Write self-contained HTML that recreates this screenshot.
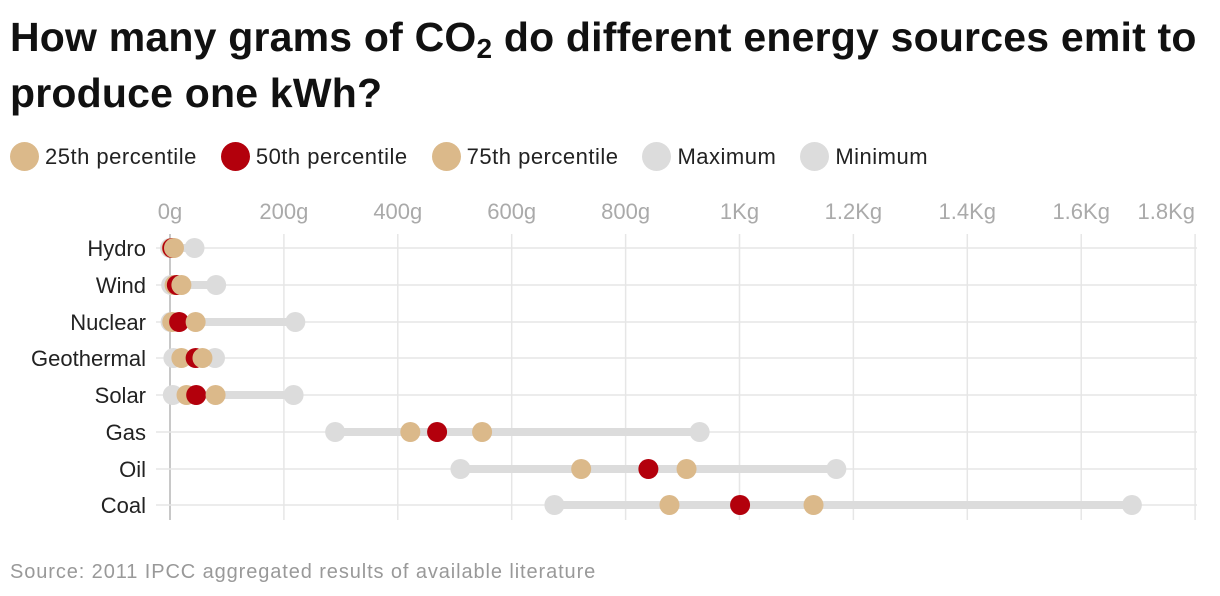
<!DOCTYPE html>
<html><head><meta charset="utf-8"><style>
body{margin:0;background:#fff;font-family:"Liberation Sans",sans-serif;}
#wrap{position:relative;width:1220px;height:596px;overflow:hidden;}
h1{position:absolute;left:10px;top:9px;margin:0;font-size:41px;line-height:56px;font-weight:bold;color:#111;letter-spacing:0.2px;width:1215px;}
h1 sub{font-size:28px;vertical-align:-7px;line-height:0;}
.legend{position:absolute;left:10px;top:142px;display:flex;font-size:22px;color:#222;}
.legend span{display:flex;align-items:center;margin-right:24px;letter-spacing:0.5px;}
.legend i{display:inline-block;width:29px;height:29px;border-radius:50%;margin-right:6px;}
.src{position:absolute;left:10px;top:561px;font-size:20px;color:#999;letter-spacing:0.9px;}
svg{position:absolute;left:0;top:0;}
</style></head><body><div id="wrap">
<h1>How many grams of CO<sub>2</sub> do different energy sources emit to produce one kWh?</h1>
<div class="legend">
<span><i style="background:#dbb98a"></i>25th percentile</span>
<span><i style="background:#b3000c"></i>50th percentile</span>
<span><i style="background:#dbb98a"></i>75th percentile</span>
<span><i style="background:#dcdcdc"></i>Maximum</span>
<span><i style="background:#dcdcdc"></i>Minimum</span>
</div>
<svg id="svg" width="1220" height="596"></svg>
<div class="src">Source: 2011 IPCC aggregated results of available literature</div>
</div>
<script>
const categories=["Hydro","Wind","Nuclear","Geothermal","Solar","Gas","Oil","Coal"];
const minVals=[0,2,1,6,5,290,510,675];
const p25Vals=[3,8,4,20,29,422,722,877];
const p50Vals=[4,12,16,45,46,469,840,1001];
const p75Vals=[7,20,45,57,80,548,907,1130];
const maxVals=[43,81,220,79,217,930,1170,1689];
const tickVals=[0,200,400,600,800,1000,1200,1400,1600,1800];
const tickLabels=["0g","200g","400g","600g","800g","1Kg","1.2Kg","1.4Kg","1.6Kg","1.8Kg"];
const rowY=[248,285,322,358,395,432,469,505];
const NS="http://www.w3.org/2000/svg";
const svg=document.getElementById('svg');
const x=v=>170+v*0.5695;
const y=i=>rowY[i];
function mk(t,a){const e=document.createElementNS(NS,t);for(const k in a)e.setAttribute(k,a[k]);svg.appendChild(e);return e;}
tickVals.forEach((v,i)=>{
 const l=mk('line',{x1:x(v),x2:x(v),y1:234,y2:520,stroke:v===0?'#c8c8c8':'#e6e6e6','stroke-width':v===0?2:1.5});
 
 
 const last=i===tickVals.length-1;
 const t=mk('text',{x:last?1195:x(v),y:219,'text-anchor':last?'end':'middle','font-size':22,fill:'#aaa'});
 t.textContent=tickLabels[i];
 
 
});
categories.forEach((c,i)=>{
 const g=mk('line',{x1:156,x2:1197,y1:y(i),y2:y(i),stroke:'#e6e6e6','stroke-width':1.5});
 
 
 const t=mk('text',{x:146,y:y(i)+8,'text-anchor':'end','font-size':22,fill:'#222'});
 t.textContent=c;
 
 
 const r=mk('line',{x1:x(minVals[i]),x2:x(maxVals[i]),y1:y(i),y2:y(i),stroke:'#dcdcdc','stroke-width':8});
 
 
 [[minVals,'#dcdcdc','min-dot'],[maxVals,'#dcdcdc','max-dot'],[p25Vals,'#dbb98a','p25-dot'],[p50Vals,'#b3000c','p50-dot'],[p75Vals,'#dbb98a','p75-dot']].forEach(s=>{
  const d=mk('circle',{cx:x(s[0][i]),cy:y(i),r:10,fill:s[1]});
  
  
 });
});
</script></body></html>
